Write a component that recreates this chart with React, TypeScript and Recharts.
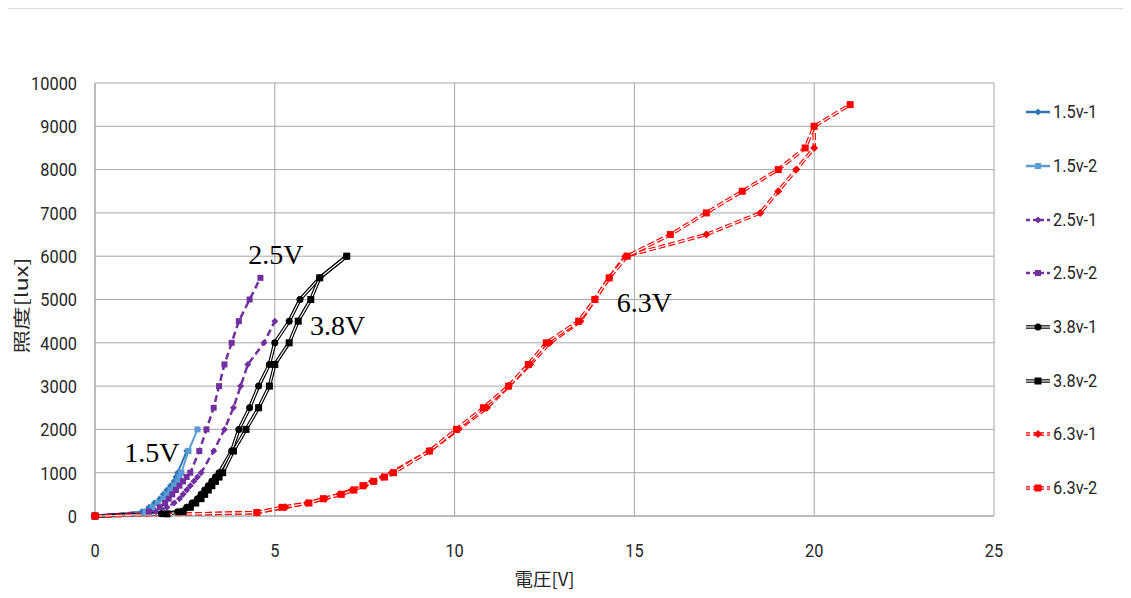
import React from "react";
import { LineChart, Line, XAxis, YAxis, CartesianGrid, ReferenceDot } from "recharts";

// voltage [V] / illuminance [lux] per lamp run
const v15_1 = [0, 1.3, 1.5, 1.65, 1.8, 1.9, 2.0, 2.1, 2.2, 2.25, 2.3, 2.55];
const lux15_1 = [0, 100, 200, 300, 400, 500, 600, 700, 800, 900, 1000, 1500];
const v15_2 = [0, 1.4, 1.6, 1.75, 1.9, 2.0, 2.1, 2.2, 2.3, 2.35, 2.4, 2.6, 2.85];
const lux15_2 = [0, 100, 200, 300, 400, 500, 600, 700, 800, 900, 1000, 1500, 2000];

const v25_1 = [0, 1.7, 2.0, 2.2, 2.35, 2.45, 2.55, 2.65, 2.75, 2.85, 2.95, 3.3, 3.6, 3.85, 4.05, 4.25, 4.7, 5.0];
const lux25_1 = [0, 100, 200, 300, 400, 500, 600, 700, 800, 900, 1000, 1500, 2000, 2500, 3000, 3500, 4000, 4500];
const v25_2 = [0, 1.5, 1.8, 1.95, 2.05, 2.15, 2.25, 2.35, 2.45, 2.55, 2.65, 2.9, 3.1, 3.3, 3.45, 3.6, 3.8, 4.0, 4.3, 4.6];
const lux25_2 = [0, 100, 200, 300, 400, 500, 600, 700, 800, 900, 1000, 1500, 2000, 2500, 3000, 3500, 4000, 4500, 5000, 5500];

const v38_1 = [0, 1.85, 2.3, 2.55, 2.7, 2.85, 2.95, 3.05, 3.15, 3.25, 3.35, 3.45, 3.8, 4.0, 4.3, 4.55, 4.85, 5.0, 5.4, 5.7, 6.25, 7.0];
const lux38_1 = [0, 50, 100, 200, 300, 400, 500, 600, 700, 800, 900, 1000, 1500, 2000, 2500, 3000, 3500, 4000, 4500, 5000, 5500, 6000];
const v38_2 = [0, 2.0, 2.45, 2.65, 2.8, 2.95, 3.05, 3.15, 3.25, 3.35, 3.45, 3.55, 3.85, 4.2, 4.55, 4.85, 5.0, 5.4, 5.65, 6.0, 6.25, 7.0];
const lux38_2 = [0, 50, 100, 200, 300, 400, 500, 600, 700, 800, 900, 1000, 1500, 2000, 2500, 3000, 3500, 4000, 4500, 5000, 5500, 6000];

const v63_1 = [0, 4.5, 5.3, 5.9, 6.4, 6.8, 7.15, 7.5, 7.7, 8.0, 8.25, 9.3, 10.1, 10.9, 11.5, 12.1, 12.65, 13.5, 13.9, 14.3, 14.75, 17.0, 18.5, 19.0, 19.5, 20.0, 20.0];
const lux63_1 = [0, 80, 200, 300, 400, 500, 600, 700, 800, 900, 1000, 1500, 2000, 2500, 3000, 3500, 4000, 4500, 5000, 5500, 6000, 6500, 7000, 7500, 8000, 8500, 9000];
const v63_2 = [0, 4.5, 5.2, 5.95, 6.35, 6.85, 7.2, 7.45, 7.75, 8.05, 8.3, 9.3, 10.05, 10.8, 11.5, 12.05, 12.55, 13.45, 13.9, 14.3, 14.8, 16.0, 17.0, 18.0, 19.0, 19.75, 20.0, 21.0];
const lux63_2 = [0, 80, 200, 300, 400, 500, 600, 700, 800, 900, 1000, 1500, 2000, 2500, 3000, 3500, 4000, 4500, 5000, 5500, 6000, 6500, 7000, 7500, 8000, 8500, 9000, 9500];

const xTicks = [0, 5, 10, 15, 20, 25];
const yTicks = [0, 1000, 2000, 3000, 4000, 5000, 6000, 7000, 8000, 9000, 10000];

// curve annotations: [text, V, lux]
const notes: [string, number, number][] = [
  ["1.5V", 1.58, 1460],
  ["2.5V", 5.03, 6050],
  ["3.8V", 6.75, 4410],
  ["6.3V", 15.28, 4940],
];

type Shape = "diamond" | "square" | "circle";
type Series = {
  name: string;
  v: number[];
  lux: number[];
  color: string;
  width: number;
  dash?: string;
  double?: boolean;
  shape: Shape;
  size: number;
};

const series: Series[] = [
  { name: "1.5v-1", v: v15_1, lux: lux15_1, color: "#2E75B6", width: 2, shape: "diamond", size: 7 },
  { name: "1.5v-2", v: v15_2, lux: lux15_2, color: "#5B9BD5", width: 2, shape: "square", size: 6 },
  { name: "2.5v-1", v: v25_1, lux: lux25_1, color: "#7030A0", width: 2.5, dash: "7 4", shape: "diamond", size: 7 },
  { name: "2.5v-2", v: v25_2, lux: lux25_2, color: "#7030A0", width: 2.5, dash: "7 4", shape: "square", size: 6 },
  { name: "3.8v-1", v: v38_1, lux: lux38_1, color: "#000000", width: 3.5, double: true, shape: "circle", size: 7 },
  { name: "3.8v-2", v: v38_2, lux: lux38_2, color: "#000000", width: 3.5, double: true, shape: "square", size: 7 },
  { name: "6.3v-1", v: v63_1, lux: lux63_1, color: "#FF0000", width: 3.5, dash: "7 3", double: true, shape: "diamond", size: 8 },
  { name: "6.3v-2", v: v63_2, lux: lux63_2, color: "#FF0000", width: 3.5, dash: "7 3", double: true, shape: "square", size: 7 },
];

// the source uses a tall narrow UI font; squeeze Roboto horizontally
const FONT = "Roboto, sans-serif";
const SQUEEZE = 0.86;
const TXT = "#262626";
const GRID = "#a6a6a6";

function XTick({ x, y, payload }: any) {
  return (
    <text transform={`translate(${x},${y}) scale(${SQUEEZE},1)`} textAnchor="middle" dy="0.71em" fontSize={19} fontFamily={FONT} fill={TXT}>
      {payload.value}
    </text>
  );
}

function YTick({ x, y, payload }: any) {
  return (
    <text transform={`translate(${x},${y}) scale(${SQUEEZE},1)`} textAnchor="end" dy="0.36em" fontSize={19} fontFamily={FONT} fill={TXT}>
      {payload.value}
    </text>
  );
}

function markerEl(shape: Shape, color: string, size: number, cx: number, cy: number, key?: string) {
  const h = size / 2;
  if (shape === "square")
    return <rect key={key} x={cx - h} y={cy - h} width={size} height={size} fill={color} />;
  if (shape === "circle") return <circle key={key} cx={cx} cy={cy} r={h} fill={color} />;
  return (
    <polygon
      key={key}
      points={`${cx},${cy - h} ${cx + h},${cy} ${cx},${cy + h} ${cx - h},${cy}`}
      fill={color}
    />
  );
}

const dotFor = (s: Series) => (p: any) => {
  if (p.cx == null || p.cy == null) return <g key={`${s.name}-${p.index}`} />;
  return markerEl(s.shape, s.color, s.size, p.cx, p.cy, `${s.name}-${p.index}`);
};

function LegendIcon({ s }: { s: Series }) {
  return (
    <svg width={26} height={14} style={{ display: "block" }}>
      <line x1={1} y1={7} x2={25} y2={7} stroke={s.color} strokeWidth={s.double ? 3.5 : 2.5} strokeDasharray={s.dash ? "4 3" : undefined} />
      {s.double && <line x1={1} y1={7} x2={25} y2={7} stroke="#fff" strokeWidth={1.2} strokeDasharray={s.dash ? "4 3" : undefined} />}
      {markerEl(s.shape, s.color, s.size, 13, 7)}
    </svg>
  );
}

export default function App() {
  return (
    <div
      style={{
        position: "relative",
        width: 1130,
        height: 589,
        border: "1px solid #d9d9d9",
        borderRight: "none",
        borderBottom: "none",
        background: "#fff",
        marginLeft: -1,
      }}
    >
      <LineChart width={1120} height={589} margin={{ top: 74, right: 134, left: 0, bottom: 0 }}>
        <CartesianGrid stroke={GRID} strokeWidth={1} />
        <XAxis
          type="number"
          dataKey="v"
          domain={[0, 25]}
          ticks={xTicks}
          height={82}
          axisLine={{ stroke: GRID }}
          tickLine={false}
          tickSize={0}
          tickMargin={27}
          tick={<XTick />}
          label={{
            content: (p: any) => {
              const vb = p.viewBox || {};
              return (
                <text
                  x={vb.x + vb.width / 2}
                  y={vb.y + 62}
                  textAnchor="middle"
                  dominantBaseline="central"
                  fontSize={18}
                  fontFamily="'Noto Sans CJK JP', sans-serif"
                  fill={TXT}
                  textLength={60}
                  lengthAdjust="spacingAndGlyphs"
                >
                  電圧[V]
                </text>
              );
            },
          }}
        />
        <YAxis
          type="number"
          domain={[0, 10000]}
          ticks={yTicks}
          width={87}
          axisLine={{ stroke: GRID }}
          tickLine={false}
          tickSize={0}
          tickMargin={18}
          tick={<YTick />}
          label={{
            content: (p: any) => {
              const vb = p.viewBox || {};
              const cy = vb.y + vb.height / 2 + 6;
              return (
                <text
                  transform={`translate(12, ${cy}) rotate(-90)`}
                  textAnchor="middle"
                  dominantBaseline="central"
                  fontSize={17}
                  fontFamily="'Noto Sans CJK JP', sans-serif"
                  fill={TXT}
                  textLength={96}
                  lengthAdjust="spacingAndGlyphs"
                >
                  照度[lux]
                </text>
              );
            },
          }}
        />
        {series.flatMap((s) => {
          const rows = s.v.map((v, i) => ({ v, lux: s.lux[i] }));
          if (!s.double) {
            return [
              <Line
                key={s.name}
                data={rows}
                dataKey="lux"
                name={s.name}
                type="linear"
                stroke={s.color}
                strokeWidth={s.width}
                strokeDasharray={s.dash}
                dot={dotFor(s)}
                activeDot={false}
                isAnimationActive={false}
              />,
            ];
          }
          return [
            <Line
              key={s.name + "-outer"}
              data={rows}
              dataKey="lux"
              name={s.name + "-outer"}
              type="linear"
              stroke={s.color}
              strokeWidth={s.width}
              strokeDasharray={s.dash}
              dot={false}
              activeDot={false}
              isAnimationActive={false}
            />,
            <Line
              key={s.name}
              data={rows}
              dataKey="lux"
              name={s.name}
              type="linear"
              stroke="#ffffff"
              strokeWidth={1.2}
              strokeDasharray={s.dash}
              dot={dotFor(s)}
              activeDot={false}
              isAnimationActive={false}
            />,
          ];
        })}
        {notes.map(([t, x, y]) => (
          <ReferenceDot
            key={t}
            x={x}
            y={y}
            r={0}
            ifOverflow="visible"
            shape={(p: any) => (
              <text
                x={p.cx}
                y={p.cy}
                textAnchor="middle"
                dominantBaseline="central"
                fontSize={28}
                fontFamily="'Liberation Serif', serif"
                fill="#000"
              >
                {t}
              </text>
            )}
          />
        ))}
      </LineChart>
      <div style={{ position: "absolute", left: 1017, top: 92, fontFamily: FONT, fontSize: 19, color: TXT }}>
        {series.map((s) => (
          <div key={s.name} style={{ display: "flex", alignItems: "center", height: 22.7, marginBottom: 31 }}>
            <LegendIcon s={s} />
            <span
              style={{
                marginLeft: 2,
                lineHeight: "22px",
                display: "inline-block",
                transform: `scaleX(${SQUEEZE})`,
                transformOrigin: "left center",
              }}
            >
              {s.name}
            </span>
          </div>
        ))}
      </div>
    </div>
  );
}
